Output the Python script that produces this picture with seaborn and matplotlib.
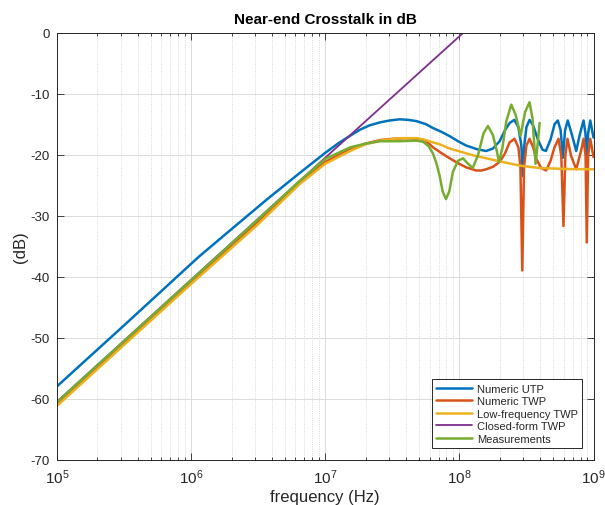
import numpy as np
import pandas as pd
import matplotlib
matplotlib.use("Agg")
import matplotlib.pyplot as plt
import seaborn as sns
from matplotlib.ticker import LogLocator, NullFormatter

# ---- data (frequency as log10(Hz), level in dB) ----
utp_logf = [5.0, 5.5, 6.0, 6.065, 6.313, 6.562, 6.81, 7.0, 7.1, 7.186, 7.26, 7.33, 7.41, 7.48, 7.555,
            7.62, 7.68, 7.75, 7.80, 7.87, 7.93, 7.99, 8.05, 8.13, 8.20, 8.25, 8.30, 8.34,
            8.375, 8.41, 8.44, 8.462, 8.473, 8.484, 8.50, 8.523, 8.55, 8.585, 8.62, 8.645,
            8.68, 8.71, 8.734, 8.755, 8.772, 8.788, 8.808, 8.84, 8.871, 8.90, 8.926, 8.94,
            8.95, 8.96, 8.976, 9.0]
utp_db = [-58.0, -48.0, -37.9, -36.6, -32.0, -27.4, -23.0, -19.7, -18.1, -16.9, -15.9, -15.2, -14.7, -14.4, -14.2,
          -14.3, -14.5, -15.0, -15.6, -16.3, -17.0, -17.8, -18.5, -19.1, -19.4, -19.0, -17.8, -16.0,
          -14.8, -14.3, -15.5, -18.5, -23.5, -18.5, -15.5, -14.3, -15.2, -17.5, -19.2, -19.4,
          -17.5, -15.0, -14.4, -16.0, -20.5, -16.0, -14.4, -16.8, -19.4, -16.5, -14.4, -16.5,
          -20.2, -16.5, -14.4, -17.2]

twp_logf = [5.0, 5.5, 6.0, 6.5, 6.81, 7.0, 7.186, 7.30, 7.41, 7.505, 7.60, 7.68, 7.73, 7.77,
            7.803, 7.87, 7.928, 7.99, 8.052, 8.126, 8.163, 8.20, 8.25, 8.30, 8.34, 8.374, 8.411,
            8.44, 8.455, 8.469, 8.482, 8.50, 8.523, 8.55, 8.573, 8.61, 8.647, 8.68, 8.709,
            8.739, 8.76, 8.776, 8.79, 8.806, 8.833, 8.871, 8.908, 8.926, 8.941, 8.95, 8.96,
            8.976, 9.0]
twp_db = [-60.9, -50.9, -40.9, -31.0, -24.6, -21.2, -19.1, -18.2, -17.6, -17.4, -17.3, -17.4, -17.6, -18.1,
          -18.8, -19.8, -20.6, -21.4, -22.1, -22.6, -22.6, -22.4, -22.0, -21.2, -19.8, -18.0, -17.4,
          -18.8, -22.0, -39.0, -22.0, -18.5, -17.4, -18.8, -20.7, -22.2, -22.6, -21.0, -18.8,
          -17.4, -20.2, -31.7, -20.2, -17.4, -20.2, -22.4, -19.3, -17.4, -20.2, -34.4, -20.2,
          -17.4, -20.4]

lf_logf = [5.0, 5.5, 6.0, 6.5, 6.81, 7.0, 7.186, 7.30, 7.41, 7.555, 7.68, 7.73, 7.853, 7.928,
           8.10, 8.30, 8.45, 8.60, 8.80, 9.0]
lf_db = [-61.2, -51.2, -41.2, -31.4, -24.8, -21.5, -19.4, -18.3, -17.7, -17.3, -17.3, -17.5, -18.3, -19.0,
         -20.1, -21.1, -21.8, -22.2, -22.35, -22.4]

cf_logf = [5.0, 6.0, 7.0, 8.03]
cf_db = [-60.5, -40.5, -20.5, 0.0]

meas_logf = [5.0, 5.5, 6.0, 6.5, 6.81, 7.0, 7.186, 7.30, 7.41, 7.555, 7.68, 7.73, 7.77, 7.803,
             7.83, 7.853, 7.875, 7.90, 7.925, 7.952, 7.99, 8.027, 8.06, 8.10, 8.14, 8.18, 8.213,
             8.25, 8.28, 8.295, 8.32, 8.35, 8.387, 8.42, 8.456, 8.49, 8.523, 8.545, 8.568,
             8.585, 8.598]
meas_db = [-60.6, -50.6, -40.6, -30.6, -24.3, -20.7, -18.8, -18.2, -17.8, -17.8, -17.7, -17.9, -18.6, -19.8,
           -21.5, -23.5, -26.0, -27.3, -26.0, -22.8, -21.0, -20.6, -21.4, -22.2, -20.0, -16.5, -15.3,
           -16.8, -19.5, -21.2, -19.0, -14.5, -11.8, -13.5, -16.9, -13.0, -11.4, -14.0, -21.5,
           -18.0, -14.8]

series_names = ["Numeric UTP", "Numeric TWP", "Low-frequency TWP", "Closed-form TWP", "Measurements"]
series_data = [(utp_logf, utp_db), (twp_logf, twp_db), (lf_logf, lf_db), (cf_logf, cf_db), (meas_logf, meas_db)]
colors = ["#0072BD", "#D95319", "#EDB120", "#7E2F8E", "#77AC30"]
widths = [1.8, 1.8, 1.8, 1.3, 1.8]

sns.set_style("ticks")
plt.rcParams['font.family'] = ['Liberation Sans', 'DejaVu Sans']
plt.rcParams['axes.unicode_minus'] = False
plt.rcParams['mathtext.fontset'] = 'custom'
plt.rcParams['mathtext.rm'] = 'Liberation Sans'
plt.rcParams['mathtext.it'] = 'Liberation Sans:italic'
plt.rcParams['mathtext.bf'] = 'Liberation Sans:bold'
plt.rcParams['mathtext.default'] = 'regular'

fig = plt.figure(figsize=(6.05, 5.06), dpi=100)
ax = fig.add_axes([57/605, 1-460.5/506, (593.5-57)/605, (460.5-33.7)/506])

for name, (lf, db), c, w in zip(series_names, series_data, colors, widths):
    df = pd.DataFrame({"freq": np.power(10.0, np.array(lf)), "dB": db})
    sns.lineplot(data=df, x="freq", y="dB", ax=ax, color=c, linewidth=w, label=name,
                 estimator=None, sort=False)

ax.set_xscale("log")
ax.set_xlim(1e5, 1e9)
ax.set_ylim(-70, 0)
ax.set_yticks(np.arange(-70, 1, 10))
ax.xaxis.set_major_locator(LogLocator(base=10, numticks=10))
ax.xaxis.set_minor_locator(LogLocator(base=10, subs=np.arange(2, 10), numticks=100))
ax.xaxis.set_minor_formatter(NullFormatter())

ax.grid(True, which='major', color='#dcdcdc', linewidth=0.7, linestyle='-')
ax.grid(True, which='minor', axis='x', color='#cfcfcf', linewidth=0.6, linestyle=':')
ax.set_axisbelow(True)

for s in ax.spines.values():
    s.set_visible(True)
    s.set_color('#262626')
    s.set_linewidth(0.7)
ax.tick_params(which='both', direction='in', top=True, right=True, colors='#262626',
               labelcolor='#262626', width=0.6)
ax.tick_params(which='major', length=5)
ax.tick_params(which='minor', length=2.5)
ax.tick_params(axis='x', which='major', pad=6, labelsize=11)
ax.tick_params(axis='y', which='major', pad=5, labelsize=9.5)

ax.set_title("Near-end Crosstalk in dB", fontsize=11, fontweight='bold', color='black', pad=7)
ax.set_xlabel("frequency (Hz)", fontsize=12, color='#262626', labelpad=2)
ax.set_ylabel("(dB)", fontsize=12, color='#262626', labelpad=2)

leg = ax.legend(loc='lower right', bbox_to_anchor=(0.979, 0.027), borderaxespad=0,
                fontsize=8, frameon=True, fancybox=False, framealpha=1,
                edgecolor='#262626', handlelength=3.2, labelspacing=0.22, borderpad=0.4,
                handletextpad=0.45)
leg.get_frame().set_linewidth(0.7)

fig.savefig("out.png", dpi=100)
